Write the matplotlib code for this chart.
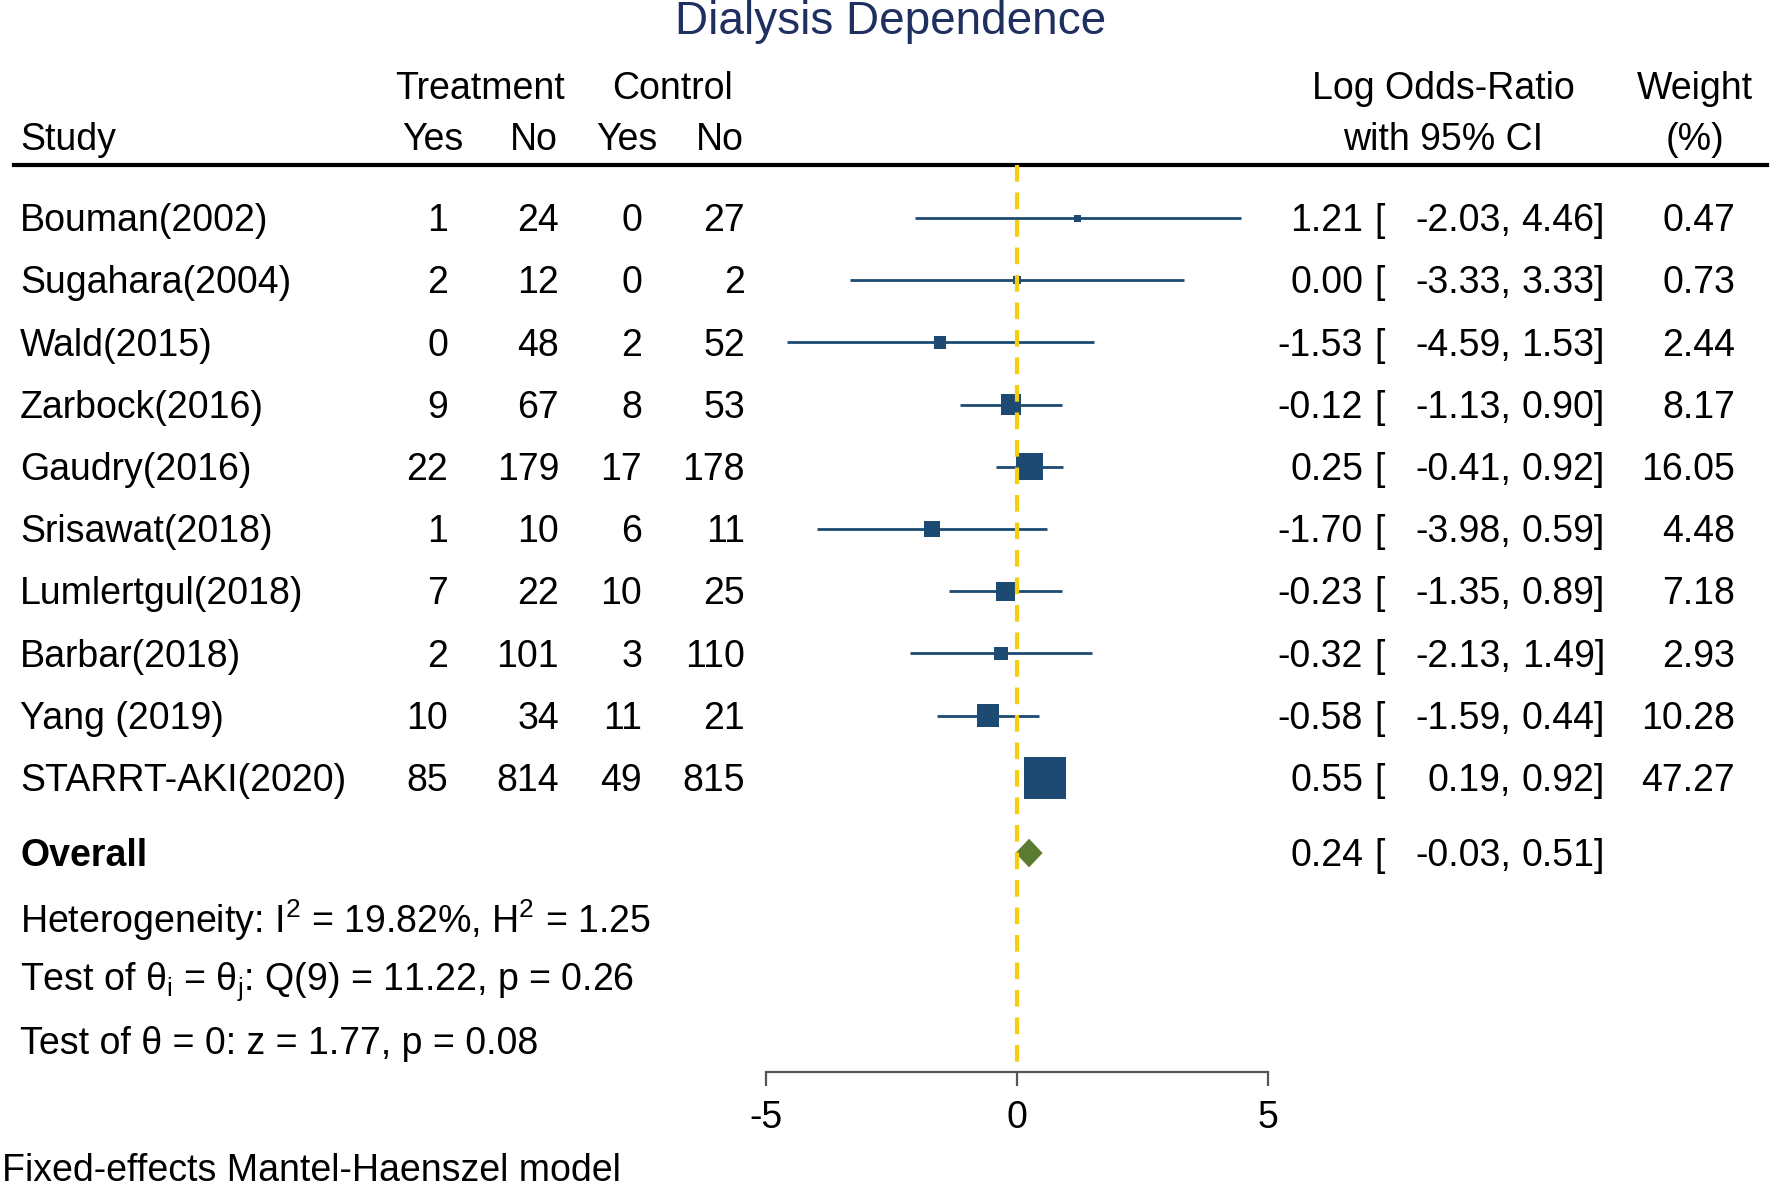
#
# forest plot - dialysis dependence, fixed-effects Mantel-Haenszel
#
import matplotlib
matplotlib.use("Agg")
import matplotlib.pyplot as plt
import matplotlib.transforms as mtransforms
import numpy as np

plt.rcParams['font.family'] = ['Liberation Sans', 'DejaVu Sans']
plt.rcParams['mathtext.fontset'] = 'custom'
plt.rcParams['mathtext.rm'] = 'Liberation Sans'
plt.rcParams['mathtext.it'] = 'Liberation Sans:italic'

# the data
studies = ["Bouman(2002)", "Sugahara(2004)", "Wald(2015)", "Zarbock(2016)",
           "Gaudry(2016)", "Srisawat(2018)", "Lumlertgul(2018)", "Barbar(2018)",
           "Yang (2019)", "STARRT-AKI(2020)"]
treat_yes = [1, 2, 0, 9, 22, 1, 7, 2, 10, 85]
treat_no = [24, 12, 48, 67, 179, 10, 22, 101, 34, 814]
ctrl_yes = [0, 0, 2, 8, 17, 6, 10, 3, 11, 49]
ctrl_no = [27, 2, 52, 53, 178, 11, 25, 110, 21, 815]
log_or = [1.21, 0.00, -1.53, -0.12, 0.25, -1.70, -0.23, -0.32, -0.58, 0.55]
ci_low = [-2.03, -3.33, -4.59, -1.13, -0.41, -3.98, -1.35, -2.13, -1.59, 0.19]
ci_high = [4.46, 3.33, 1.53, 0.90, 0.92, 0.59, 0.89, 1.49, 0.44, 0.92]
weights = [0.47, 0.73, 2.44, 8.17, 16.05, 4.48, 7.18, 2.93, 10.28, 47.27]
overall = [0.24, -0.03, 0.51]
xticks = [-5, 0, 5]

NAVY = '#1c4a72'
GREEN = '#5b7b31'
GOLD = '#f5cf0f'
FS = 27

W, H = 1770, 1190
fig = plt.figure(figsize=(W / 100, H / 100), dpi=100)
ax = fig.add_axes([0, 0, 1, 1])

# pixel layout -> data limits (x in log-OR units, y in rows)
unit = 50.2
x0 = 766 - (-5) * unit  # pixel of zero
ax.set_xlim(-x0 / unit, (W - x0) / unit)
row0, rowh = 218, 62.2
ax.set_ylim((H - row0) / rowh, -row0 / rowh)

def px(x):
    return x / W

tr = mtransforms.blended_transform_factory(fig.transFigure, ax.transData)
DY = 0.05  # text nudge so glyphs sit on the row centre

def txt(x, y, s, ha='left', **kw):
    ax.text(px(x), y + DY, s, transform=tr, ha=ha, va='center', fontsize=kw.pop('fontsize', FS), **kw)

rows = np.arange(len(studies))
over_row = 10.21
axis_row = 13.73

# CI lines + weighted squares
ax.hlines(rows, ci_low, ci_high, color=NAVY, lw=2, zorder=2)
side_px = 42 * (np.array(weights) / max(weights)) ** 0.41
side_px = np.maximum(side_px, 7)
ax.scatter(log_or, rows, marker='s', s=(side_px * 0.72) ** 2, color=NAVY,
           linewidths=0, zorder=3)

# overall diamond
est, lo, hi = overall
ax.fill([lo, est, hi, est], [over_row, over_row - 0.23, over_row, over_row + 0.23],
        color=GREEN, lw=0, zorder=3)

# null line
ax.vlines(0, -0.85, axis_row, color=GOLD, lw=3, linestyles=(0, (4, 2.6)), zorder=4)

# header line
ax.plot([px(14), px(1767)], [-0.85, -0.85], color='black', lw=3,
        transform=tr, clip_on=False)

# x axis
for s in ['left', 'right', 'top']:
    ax.spines[s].set_visible(False)
ax.spines['bottom'].set_position(('data', axis_row))
ax.spines['bottom'].set_bounds(-5, 5)
ax.spines['bottom'].set_color('#555555')
ax.spines['bottom'].set_linewidth(1.6)
ax.set_xticks(xticks)
ax.set_xticklabels([str(t) for t in xticks])
ax.tick_params(axis='x', direction='out', length=10, width=1.6, color='#555555',
               labelsize=FS, pad=10)
ax.set_yticks([])

# title and headers
txt(891, -3.2, "Dialysis Dependence", ha='center', fontsize=33, color='#1f2f5f')
hdr1 = -2.12
hdr2 = -1.30
txt(480, hdr1, "Treatment", ha='center')
txt(673, hdr1, "Control", ha='center')
txt(1443, hdr1, "Log Odds-Ratio", ha='center')
txt(1695, hdr1, "Weight", ha='center')
txt(20, hdr2, "Study")
for xc, lab in [(433, "Yes"), (534, "No"), (627, "Yes"), (720, "No")]:
    txt(xc, hdr2, lab, ha='center')
txt(1443, hdr2, "with 95% CI", ha='center')
txt(1695, hdr2, "(%)", ha='center')

# study rows
for i, name in enumerate(studies):
    txt(20, i, name)
    for xr, col in [(448, treat_yes), (559, treat_no), (642, ctrl_yes), (745, ctrl_no)]:
        txt(xr, i, str(col[i]), ha='right')
    txt(1363, i, f"{log_or[i]:.2f}", ha='right')
    txt(1374, i, "[")
    txt(1511, i, f"{ci_low[i]:.2f},", ha='right')
    txt(1605, i, f"{ci_high[i]:.2f}]", ha='right')
    txt(1735, i, f"{weights[i]:.2f}", ha='right')

# overall row
txt(20, over_row, "Overall", fontweight='bold')
txt(1363, over_row, f"{est:.2f}", ha='right')
txt(1374, over_row, "[")
txt(1511, over_row, f"{lo:.2f},", ha='right')
txt(1605, over_row, f"{hi:.2f}]", ha='right')

# statistics
stats = [r"Heterogeneity: I$^\mathrm{2}$ = 19.82%, H$^\mathrm{2}$ = 1.25",
         r"Test of θ$_\mathrm{i}$ = θ$_\mathrm{j}$: Q(9) = 11.22, p = 0.26",
         "Test of θ = 0: z = 1.77, p = 0.08"]
for k, s in enumerate(stats):
    txt(20, 11.24 + k * 0.995, s)

txt(2, 15.27, "Fixed-effects Mantel-Haenszel model")

fig.savefig("out.png", dpi=100)
